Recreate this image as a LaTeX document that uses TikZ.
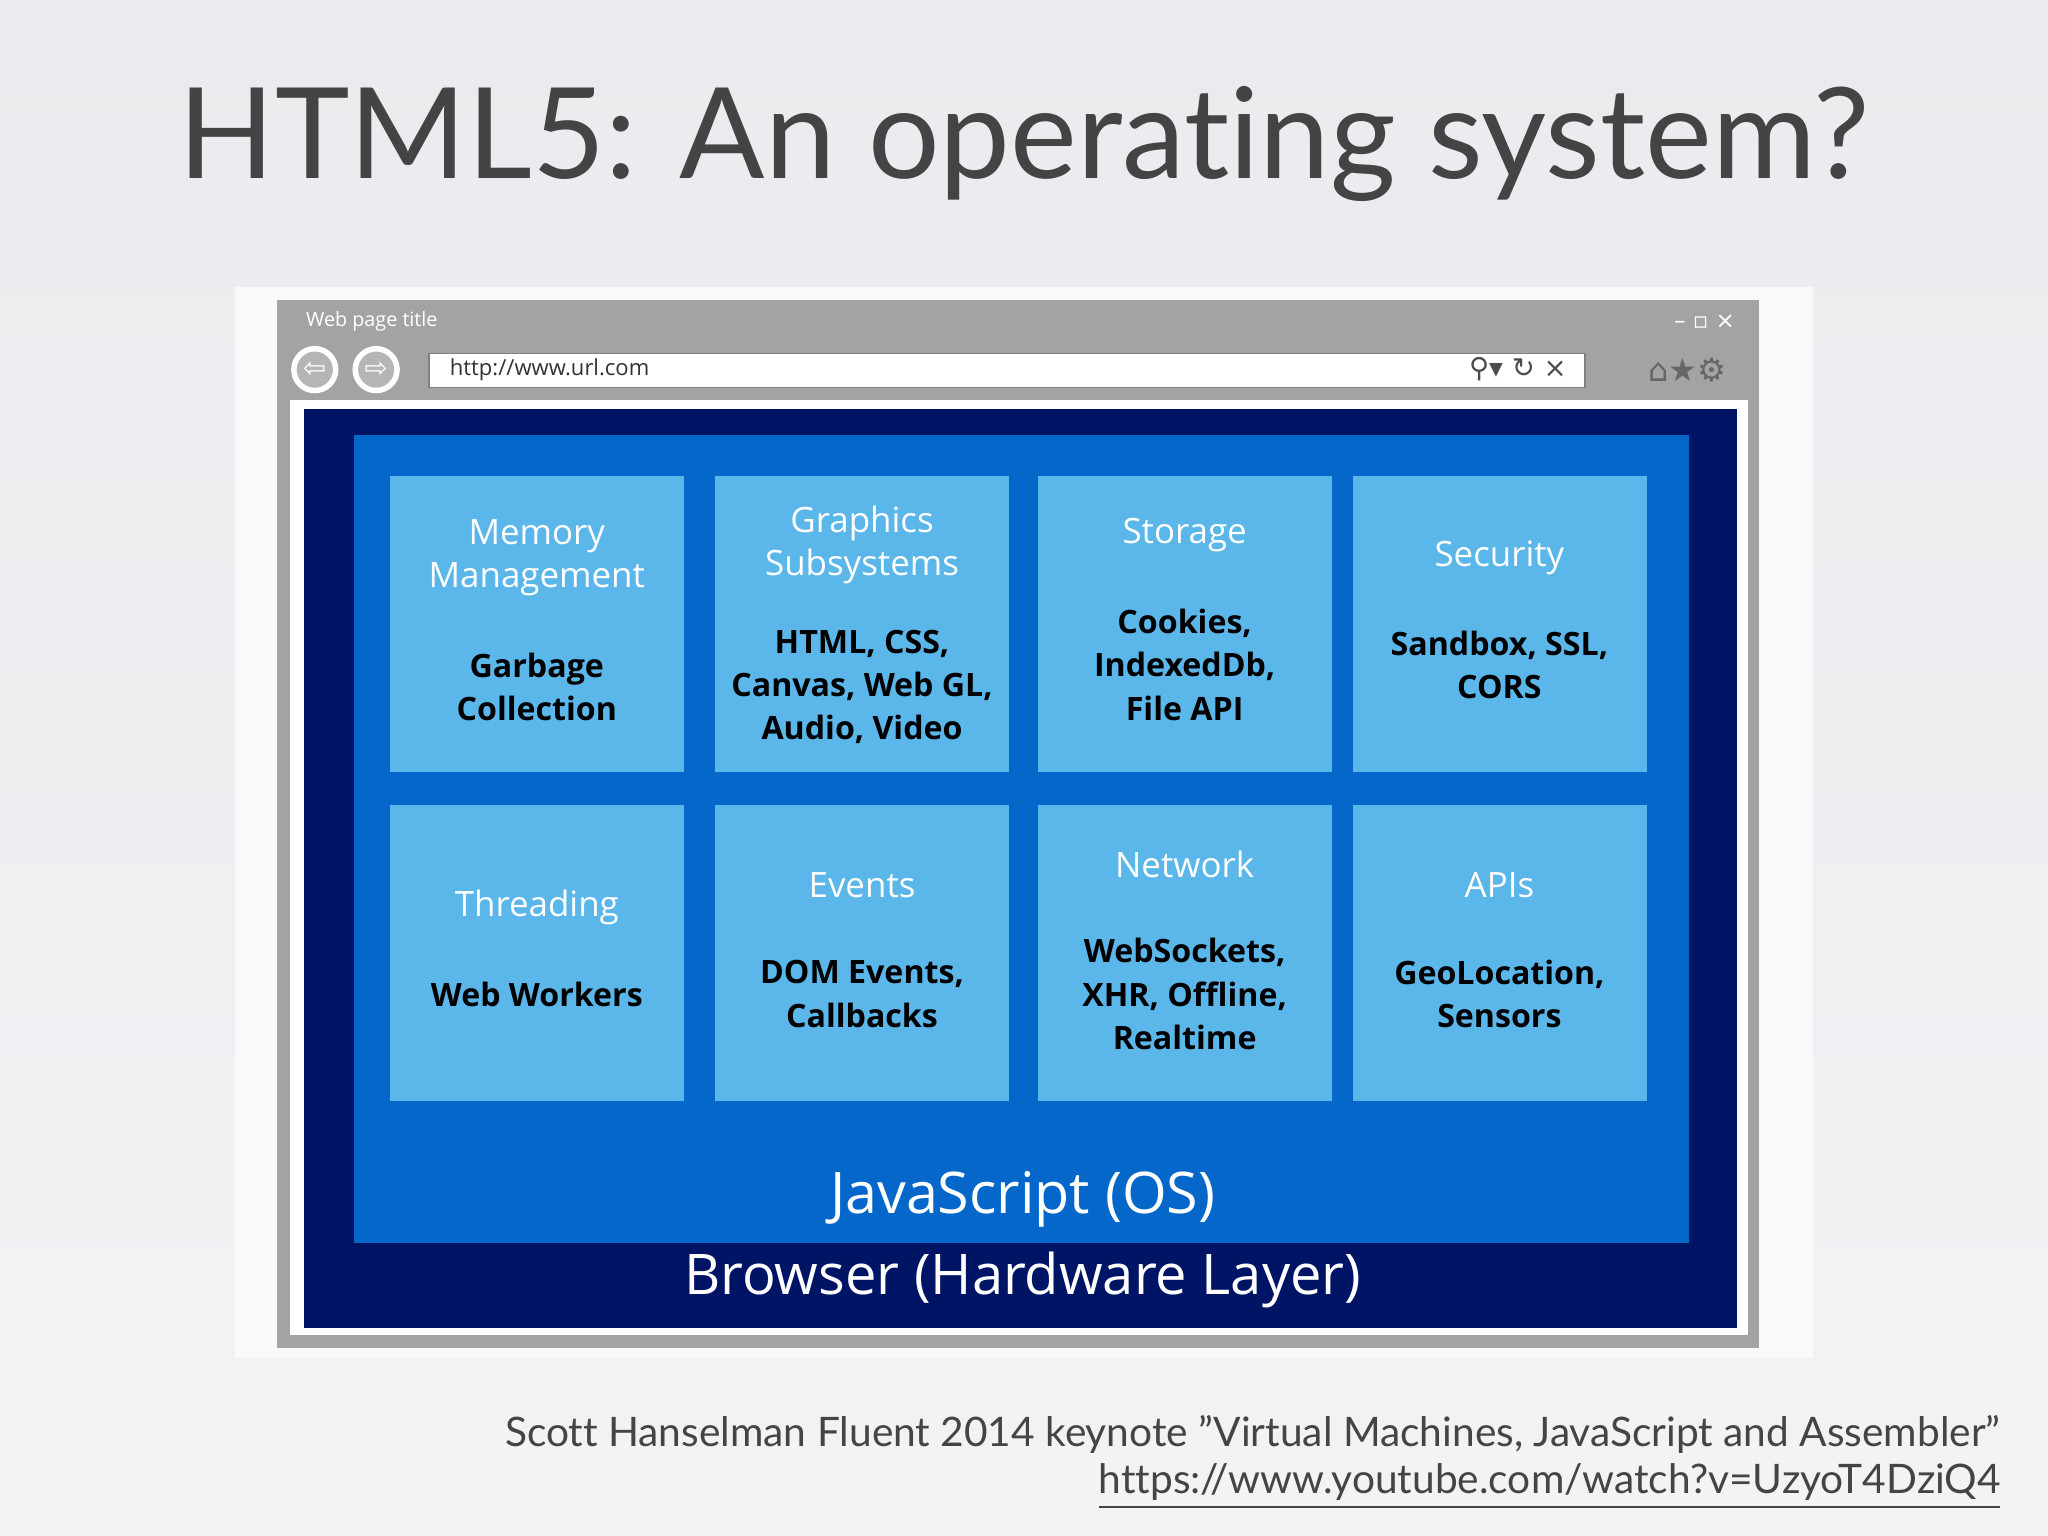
\documentclass[tikz,border=0pt]{standalone}
\usepackage{fontspec}
\setmainfont{Lato}[Ligatures=NoCommon]
\newfontfamily\seg{Open Sans}
\newfontfamily\djv{DejaVu Sans}
\definecolor{bgc}{HTML}{E9EBEE}
\definecolor{titc}{HTML}{444444}
\definecolor{navy}{HTML}{001466}
\definecolor{midb}{HTML}{0467C9}
\definecolor{tileb}{HTML}{5BB6E9}
\definecolor{framec}{HTML}{A3A3A3}
\tikzset{
 tile/.style={fill=tileb,draw=none,minimum width=2.25cm,minimum height=2.26cm,anchor=north west},
 head/.style={text=white,font=\seg\fontsize{7.6}{9.4}\selectfont,align=center},
 body/.style={text=black,font=\seg\bfseries\fontsize{7}{9.4}\selectfont,align=center},
}
\begin{document}
\begin{tikzpicture}[x=0.01cm,y=-0.01cm]
\useasboundingbox (0,0) rectangle (1568,1176);
\shade[top color=bgc,bottom color=bgc!60!white] (0,0) rectangle (1568,1176);
\node[text=titc,font=\fontsize{27.5}{32}\selectfont] (title) at (784,110) {HTML5: An operating system?};
\fill[white!95!gray] (180,220) rectangle (1388,1040);
\fill[framec] (212,230) rectangle (1347,1032);
\node[anchor=west,text=white,font=\seg\fontsize{4.3}{5}\selectfont] (wpt) at (222,246) {Web page title};
\node[text=white,font=\djv\fontsize{5}{6}\selectfont] (wc) at (1305,246) {– ▫ ×};
\node[circle,draw=white,line width=1.2pt,fill=framec!80!white,minimum size=0.32cm,inner sep=0,font=\djv\fontsize{6}{6}\selectfont,text=white] (back) at (241,283) {⇦};
\node[circle,draw=white,line width=1.2pt,fill=framec!80!white,minimum size=0.32cm,inner sep=0,font=\djv\fontsize{6}{6}\selectfont,text=white] (fwd) at (288,283) {⇨};
\node[fill=white,draw=gray,minimum width=8.84cm,minimum height=0.26cm,anchor=north west,inner sep=0] (addr) at (328,270) {};
\node[anchor=west,font=\seg\fontsize{4.8}{6}\selectfont,text=black!80] (url) at (332,283) {http://www.url.com};
\node[anchor=east,font=\djv\fontsize{6}{6}\selectfont,text=black!70] (ic1) at (1212,283) {⚲▾ ↻ ×};
\node[font=\djv\fontsize{7}{7}\selectfont,text=black!60] (ic2) at (1292,283) {⌂★⚙};
\fill[white] (222,306) rectangle (1338,1022);
\fill[navy] (233,313) rectangle (1330,1017);
\fill[midb] (271,333) rectangle (1293,952);
\foreach \n/\x/\y/\h/\b/\hy/\by in {
 a/298/364/{Memory\\Management}/{Garbage\\Collection}/427/526,
 b/547/364/{Graphics\\Subsystems}/{HTML, CSS,\\Canvas, Web GL,\\Audio, Video}/417/526,
 c/794/364/{Storage}/{Cookies,\\IndexedDb,\\File API}/410/509,
 d/1035/364/{Security}/{Sandbox, SSL,\\CORS}/427/509,
 e/298/616/{Threading}/{Web Workers}/695/761,
 f/547/616/{Events}/{DOM Events,\\Callbacks}/678/761,
 g/794/616/{Network}/{WebSockets,\\XHR, Offline,\\Realtime}/662/761,
 h/1035/616/{APIs}/{GeoLocation,\\Sensors}/678/761}{
 \node[tile] (t\n) at (\x,\y) {};
 \node[head] (h\n) at (\x+113,\hy) {\h};
 \node[body] (b\n) at (\x+113,\by) {\b};
}
\node[text=white,font=\seg\fontsize{12.5}{15}\selectfont] (js) at (783,918) {JavaScript (OS)};
\node[text=white,font=\seg\fontsize{12.2}{15}\selectfont] (br) at (783,980) {Browser (Hardware Layer)};
\node[anchor=east,text=titc,font=\fontsize{8.85}{10}\selectfont] (cite) at (1544,1098) {Scott Hanselman Fluent 2014 keynote \symbol{34}Virtual Machines, JavaScript and Assembler\symbol{34}};
\node[anchor=east,text=titc,font=\fontsize{8.85}{10}\selectfont] (link) at (1544,1138) {\underline{https://www.youtube.com/watch?v=UzyoT4DziQ4}};
\end{tikzpicture}
\end{document}
